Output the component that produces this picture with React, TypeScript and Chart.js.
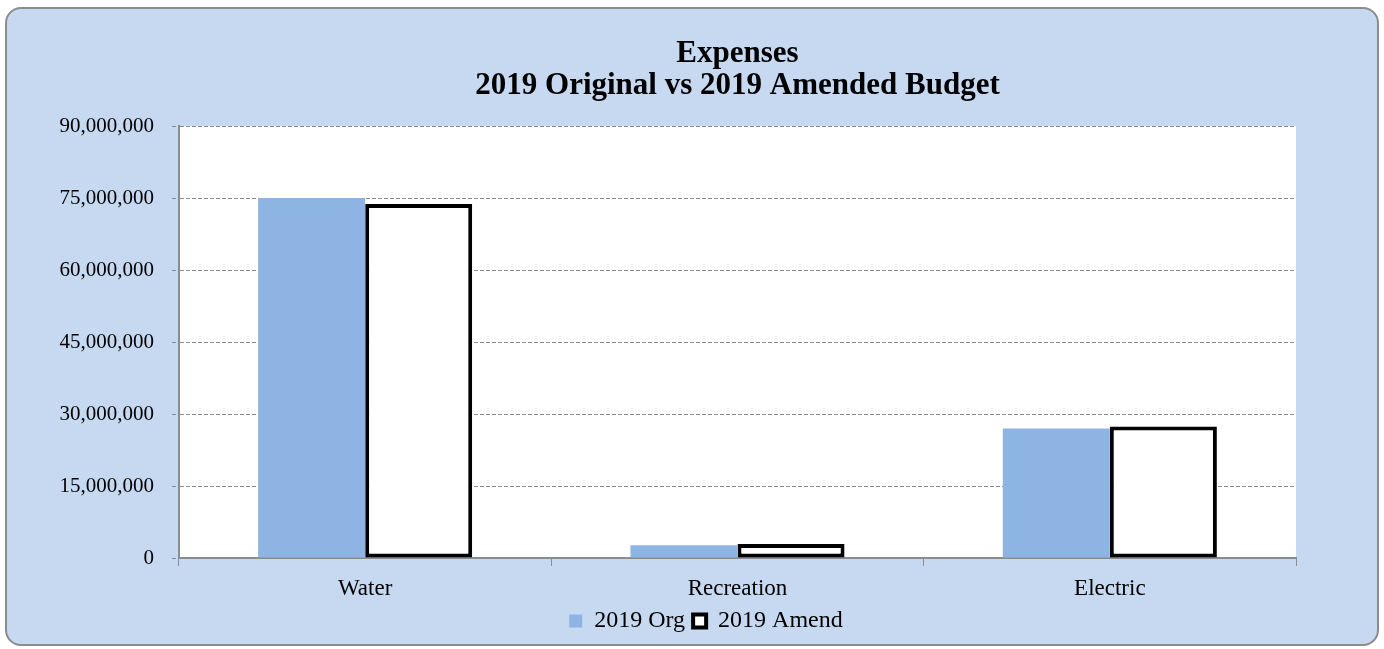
import React, { useEffect, useRef } from "react";
import { Chart, registerables } from "chart.js";

Chart.register(...registerables);

const categories = ["Water", "Recreation", "Electric"];
const org2019 = [75000000, 2650000, 27000000];
const amend2019 = [73750000, 2900000, 27400000];
const yTicks = [0, 15000000, 30000000, 45000000, 60000000, 75000000, 90000000];
const titleLines = ["Expenses", "2019 Original vs 2019 Amended Budget"];
const seriesNames = ["2019 Org", "2019 Amend"];

const FONT = "'Liberation Serif', 'DejaVu Serif', serif";

export default function App() {
  const ref = useRef<HTMLCanvasElement | null>(null);
  useEffect(() => {
    if (!ref.current) return;
    const chart = new Chart(ref.current, {
      type: "bar",
      data: {
        labels: categories,
        datasets: [
          {
            label: seriesNames[0],
            data: org2019,
            backgroundColor: "#8EB4E3",
            borderWidth: 0,
            categoryPercentage: 0.575,
            barPercentage: 1,
          },
          {
            label: seriesNames[1],
            data: amend2019,
            backgroundColor: "#FFFFFF",
            borderColor: "#000000",
            borderWidth: 4,
            borderSkipped: false,
            categoryPercentage: 0.575,
            barPercentage: 1,
          },
        ],
      },
      options: {
        animation: false,
        responsive: true,
        maintainAspectRatio: false,
        layout: { padding: { left: 28, right: 0, top: 117, bottom: 1 } },
        plugins: {
          title: { display: false },
          legend: {
            position: "bottom",
            labels: {
              color: "#000",
              font: { family: FONT, size: 24 },
              boxWidth: 13,
              boxHeight: 13,
              padding: 8,
            },
          },
          tooltip: { enabled: false },
        },
        scales: {
          x: {
            afterFit: (scale: any) => {
              scale.height = 43;
            },
            grid: {
              drawOnChartArea: false,
              drawTicks: true,
              tickLength: 8,
              offset: true,
              color: "#8c8c8c",
              lineWidth: 1,
            },
            border: { color: "#8c8c8c", width: 2 },
            ticks: { color: "#000", font: { family: FONT, size: 23 }, padding: 9 },
          },
          y: {
            min: 0,
            max: 90000000,
            afterBuildTicks: (scale: any) => {
              scale.ticks = yTicks.map((v) => ({ value: v }));
            },
            afterFit: (scale: any) => {
              scale.width = 144;
            },
            grid: {
              color: "#8c8c8c",
              lineWidth: 1,
              tickLength: 7,
              tickColor: "#8c8c8c",
              tickBorderDash: [4, 2],
            },
            border: { color: "#8c8c8c", width: 2, dash: [4, 2] },
            ticks: {
              color: "#000",
              font: { family: FONT, size: 21 },
              padding: 18,
              callback: (v: any) => Number(v).toLocaleString("en-US"),
            },
          },
          yRight: {
            type: "linear",
            position: "right",
            display: true,
            afterFit: (scale: any) => {
              scale.width = 81;
            },
            grid: { display: false, drawOnChartArea: false },
            ticks: { display: false },
            border: { display: false },
          },
        },
      },
      plugins: [
        {
          id: "plotBg",
          beforeDraw: (c: any) => {
            const { ctx, chartArea } = c;
            ctx.save();
            ctx.fillStyle = "#FFFFFF";
            ctx.fillRect(chartArea.left, chartArea.top, chartArea.right - chartArea.left, chartArea.bottom - chartArea.top);
            ctx.restore();
          },
        },
        {
          id: "plotTitle",
          afterDraw: (c: any) => {
            const { ctx, chartArea } = c;
            const cx = (chartArea.left + chartArea.right) / 2;
            ctx.save();
            ctx.fillStyle = "#000";
            ctx.font = `bold 31px ${FONT}`;
            ctx.textAlign = "center";
            ctx.textBaseline = "alphabetic";
            ctx.fillText(titleLines[0], cx, 53);
            ctx.fillText(titleLines[1], cx, 85);
            ctx.restore();
          },
        },
      ],
    });
    return () => chart.destroy();
  }, []);
  return (
    <div
      style={{
        position: "fixed",
        left: 5,
        top: 7,
        width: 1374,
        height: 639,
        background: "#C6D9F0",
        border: "2px solid #8c8c8c",
        borderRadius: 16,
        boxSizing: "border-box",
      }}
    >
      <canvas ref={ref} />
    </div>
  );
}
